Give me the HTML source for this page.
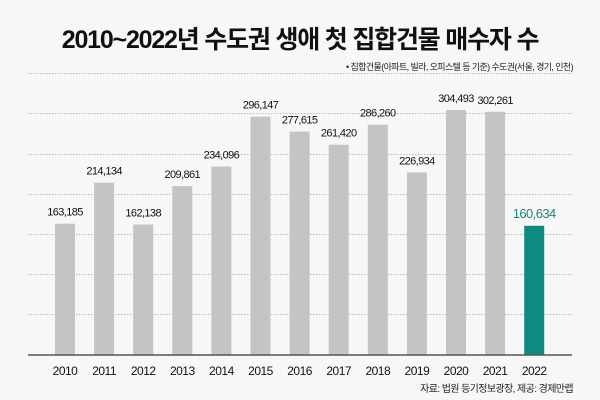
<!DOCTYPE html>
<html><head><meta charset="utf-8"><style>
body{margin:0;background:#f7f7f7;}
svg{display:block;font-family:"Liberation Sans","Noto Sans CJK KR",sans-serif;}
</style></head><body>
<svg width="600" height="400" viewBox="0 0 600 400">
<rect width="600" height="400" fill="#f7f7f7"/>
<text x="300" y="48" text-anchor="middle" font-size="25" font-weight="bold" fill="#111" letter-spacing="-1.2">2010~2022년 수도권 생애 첫 집합건물 매수자 수</text>
<text x="573" y="70" text-anchor="end" font-size="9" fill="#222" letter-spacing="-0.6">• 집합건물(아파트, 빌라, 오피스텔 등 기준) 수도권(서울, 경기, 인천)</text>
<g stroke="#bbb" stroke-width="1" stroke-dasharray="1.5,1.5">
<line x1="28" x2="572" y1="73.5" y2="73.5"/>
<line x1="28" x2="572" y1="113.5" y2="113.5"/>
<line x1="28" x2="572" y1="154.5" y2="154.5"/>
<line x1="28" x2="572" y1="194.5" y2="194.5"/>
<line x1="28" x2="572" y1="234.5" y2="234.5"/>
<line x1="28" x2="572" y1="274.5" y2="274.5"/>
<line x1="28" x2="572" y1="314.5" y2="314.5"/>
</g>
<g fill="#c4c4c4">
<rect x="55" y="223.7" width="20" height="131.3"/>
<rect x="94.1" y="182.7" width="20" height="172.3"/>
<rect x="133.2" y="224.5" width="20" height="130.5"/>
<rect x="172.3" y="186.1" width="20" height="168.9"/>
<rect x="211.4" y="166.6" width="20" height="188.4"/>
<rect x="250.5" y="116.7" width="20" height="238.3"/>
<rect x="289.6" y="131.6" width="20" height="223.4"/>
<rect x="328.7" y="144.7" width="20" height="210.3"/>
<rect x="367.8" y="124.7" width="20" height="230.3"/>
<rect x="406.9" y="172.4" width="20" height="182.6"/>
<rect x="446" y="110" width="20" height="245"/>
<rect x="485.1" y="111.8" width="20" height="243.2"/>
</g>
<rect x="524.2" y="225.8" width="20" height="129.2" fill="#0f8a82"/>
<g font-size="11" fill="#111" text-anchor="middle" letter-spacing="-0.6">
<text x="65" y="215.7">163,185</text>
<text x="104.1" y="174.7">214,134</text>
<text x="143.2" y="216.5">162,138</text>
<text x="182.3" y="178.1">209,861</text>
<text x="221.4" y="158.6">234,096</text>
<text x="260.5" y="108.7">296,147</text>
<text x="299.6" y="123.6">277,615</text>
<text x="338.7" y="136.7">261,420</text>
<text x="377.8" y="116.7">286,260</text>
<text x="416.9" y="164.4">226,934</text>
<text x="456" y="102">304,493</text>
<text x="495.1" y="103.8">302,261</text>
</g>
<text x="534.2" y="217.8" font-size="13" fill="#118a82" text-anchor="middle" letter-spacing="-0.6">160,634</text>
<line x1="28" x2="572" y1="355" y2="355" stroke="#555" stroke-width="1.5"/>
<g font-size="12" fill="#111" text-anchor="middle" letter-spacing="-0.5">
<text x="65" y="375">2010</text>
<text x="104.1" y="375">2011</text>
<text x="143.2" y="375">2012</text>
<text x="182.3" y="375">2013</text>
<text x="221.4" y="375">2014</text>
<text x="260.5" y="375">2015</text>
<text x="299.6" y="375">2016</text>
<text x="338.7" y="375">2017</text>
<text x="377.8" y="375">2018</text>
<text x="416.9" y="375">2019</text>
<text x="456" y="375">2020</text>
<text x="495.1" y="375">2021</text>
<text x="534.2" y="375">2022</text>
</g>
<text x="573" y="392" text-anchor="end" font-size="10" fill="#222" letter-spacing="-0.6">자료: 법원 등기정보광장, 제공: 경제만랩</text>
</svg>
</body></html>
